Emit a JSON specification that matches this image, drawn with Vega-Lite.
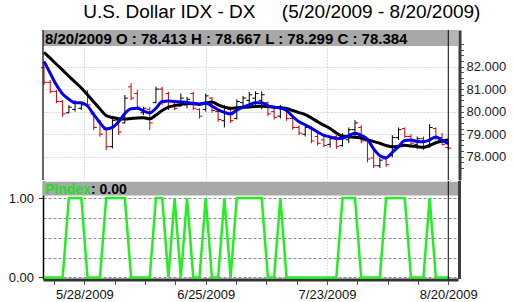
{
  "$schema": "https://vega.github.io/schema/vega-lite/v6.json",
  "background": "white",
  "padding": {"left": 0, "top": 3, "right": 0, "bottom": 0},
  "spacing": -3,
  "title": {"text": "U.S. Dollar IDX - DX\u00a0\u00a0\u00a0\u00a0\u00a0(5/20/2009 - 8/20/2009)", "fontSize": 19, "fontWeight": "normal", "font": "Liberation Sans", "color": "#000000", "anchor": "middle", "frame": "bounds", "dx": 29, "offset": 7},
  "config": {"view": {"stroke": null}, "font": "Liberation Sans"},
  "datasets": {
    "px": [
      {"i":0,"d":"2009-05-19","o":81.95,"h":82.06,"l":81.18,"c":81.3,"b":82.23,"k":82.63,"p":0},
      {"i":1,"d":"2009-05-20","o":81.3,"h":81.4,"l":80.81,"c":80.9,"b":81.7,"k":82.37,"p":0},
      {"i":2,"d":"2009-05-21","o":80.9,"h":80.96,"l":80.37,"c":80.45,"b":81.18,"k":82.1,"p":0},
      {"i":3,"d":"2009-05-22","o":80.45,"h":80.51,"l":79.77,"c":79.9,"b":80.78,"k":81.84,"p":0},
      {"i":4,"d":"2009-05-26","o":79.95,"h":80.29,"l":79.92,"c":80.2,"b":80.55,"k":81.57,"p":1},
      {"i":5,"d":"2009-05-27","o":80.1,"h":80.51,"l":80.0,"c":80.4,"b":80.39,"k":81.31,"p":1},
      {"i":6,"d":"2009-05-28","o":80.15,"h":80.37,"l":80.07,"c":80.3,"b":80.39,"k":81.05,"p":1},
      {"i":7,"d":"2009-05-29","o":80.8,"h":80.96,"l":80.22,"c":80.3,"b":80.25,"k":80.75,"p":0},
      {"i":8,"d":"2009-06-01","o":79.9,"h":80.0,"l":79.18,"c":79.3,"b":79.87,"k":80.43,"p":0},
      {"i":9,"d":"2009-06-02","o":79.55,"h":79.63,"l":78.89,"c":79.0,"b":79.51,"k":80.12,"p":0},
      {"i":10,"d":"2009-06-03","o":79.2,"h":79.33,"l":78.3,"c":78.45,"b":79.23,"k":79.83,"p":1},
      {"i":11,"d":"2009-06-04","o":78.45,"h":79.77,"l":78.37,"c":79.6,"b":79.3,"k":79.74,"p":1},
      {"i":12,"d":"2009-06-05","o":79.6,"h":79.7,"l":78.96,"c":79.1,"b":79.55,"k":79.69,"p":1},
      {"i":13,"d":"2009-06-08","o":79.5,"h":80.74,"l":79.48,"c":80.6,"b":79.92,"k":79.67,"p":1},
      {"i":14,"d":"2009-06-09","o":81.1,"h":81.26,"l":80.51,"c":80.6,"b":80.13,"k":79.7,"p":0},
      {"i":15,"d":"2009-06-10","o":80.8,"h":80.96,"l":80.07,"c":80.2,"b":80.15,"k":79.72,"p":0},
      {"i":16,"d":"2009-06-11","o":79.95,"h":80.22,"l":79.85,"c":80.15,"b":80.03,"k":79.73,"p":0},
      {"i":17,"d":"2009-06-12","o":80.1,"h":80.22,"l":79.18,"c":79.5,"b":79.94,"k":79.68,"p":0},
      {"i":18,"d":"2009-06-15","o":80.4,"h":81.11,"l":80.37,"c":81.0,"b":80.15,"k":79.85,"p":1},
      {"i":19,"d":"2009-06-16","o":81.0,"h":81.1,"l":80.29,"c":80.4,"b":80.45,"k":80.05,"p":1},
      {"i":20,"d":"2009-06-17","o":80.8,"h":80.88,"l":80.07,"c":80.2,"b":80.47,"k":80.2,"p":0},
      {"i":21,"d":"2009-06-18","o":80.4,"h":80.51,"l":80.07,"c":80.15,"b":80.45,"k":80.27,"p":1},
      {"i":22,"d":"2009-06-19","o":80.25,"h":80.81,"l":80.22,"c":80.6,"b":80.43,"k":80.32,"p":0},
      {"i":23,"d":"2009-06-22","o":80.3,"h":80.66,"l":80.15,"c":80.55,"b":80.41,"k":80.36,"p":1},
      {"i":24,"d":"2009-06-23","o":80.8,"h":80.88,"l":80.07,"c":80.15,"b":80.37,"k":80.35,"p":0},
      {"i":25,"d":"2009-06-24","o":80.1,"h":80.15,"l":79.7,"c":79.8,"b":80.34,"k":80.32,"p":0},
      {"i":26,"d":"2009-06-25","o":80.1,"h":80.8,"l":80.0,"c":80.7,"b":80.38,"k":80.38,"p":1},
      {"i":27,"d":"2009-06-26","o":80.6,"h":80.65,"l":79.95,"c":80.05,"b":80.25,"k":80.43,"p":0},
      {"i":28,"d":"2009-06-29","o":80.0,"h":80.1,"l":79.55,"c":79.65,"b":80.08,"k":80.3,"p":0},
      {"i":29,"d":"2009-06-30","o":79.6,"h":80.3,"l":79.3,"c":80.2,"b":79.97,"k":80.2,"p":1},
      {"i":30,"d":"2009-07-01","o":80.1,"h":80.15,"l":79.5,"c":79.6,"b":79.9,"k":80.15,"p":0},
      {"i":31,"d":"2009-07-02","o":79.7,"h":80.55,"l":79.65,"c":80.45,"b":80.07,"k":80.17,"p":1},
      {"i":32,"d":"2009-07-06","o":80.4,"h":80.7,"l":80.2,"c":80.6,"b":80.2,"k":80.19,"p":1},
      {"i":33,"d":"2009-07-07","o":80.5,"h":80.87,"l":80.3,"c":80.75,"b":80.3,"k":80.21,"p":1},
      {"i":34,"d":"2009-07-08","o":80.6,"h":80.9,"l":80.3,"c":80.8,"b":80.4,"k":80.23,"p":1},
      {"i":35,"d":"2009-07-09","o":80.5,"h":80.9,"l":80.1,"c":80.75,"b":80.4,"k":80.24,"p":1},
      {"i":36,"d":"2009-07-10","o":80.4,"h":80.45,"l":79.8,"c":79.9,"b":80.26,"k":80.22,"p":0},
      {"i":37,"d":"2009-07-13","o":80.0,"h":80.2,"l":79.65,"c":79.75,"b":80.2,"k":80.2,"p":0},
      {"i":38,"d":"2009-07-14","o":79.8,"h":80.3,"l":79.7,"c":80.2,"b":80.16,"k":80.17,"p":1},
      {"i":39,"d":"2009-07-15","o":80.1,"h":80.15,"l":79.6,"c":79.7,"b":80.05,"k":80.14,"p":0},
      {"i":40,"d":"2009-07-16","o":79.7,"h":79.75,"l":79.2,"c":79.3,"b":79.78,"k":80.05,"p":0},
      {"i":41,"d":"2009-07-17","o":79.3,"h":79.4,"l":78.96,"c":79.05,"b":79.55,"k":79.96,"p":0},
      {"i":42,"d":"2009-07-20","o":79.0,"h":79.4,"l":78.9,"c":79.3,"b":79.42,"k":79.87,"p":0},
      {"i":43,"d":"2009-07-21","o":79.3,"h":79.35,"l":78.6,"c":78.7,"b":79.26,"k":79.72,"p":0},
      {"i":44,"d":"2009-07-22","o":78.9,"h":79.05,"l":78.5,"c":78.6,"b":79.1,"k":79.55,"p":0},
      {"i":45,"d":"2009-07-23","o":78.75,"h":78.9,"l":78.43,"c":78.5,"b":78.95,"k":79.4,"p":0},
      {"i":46,"d":"2009-07-24","o":78.55,"h":78.9,"l":78.4,"c":78.8,"b":78.88,"k":79.25,"p":0},
      {"i":47,"d":"2009-07-27","o":78.9,"h":78.96,"l":78.35,"c":78.45,"b":78.8,"k":79.05,"p":0},
      {"i":48,"d":"2009-07-28","o":78.5,"h":79.05,"l":78.45,"c":78.95,"b":78.82,"k":78.91,"p":1},
      {"i":49,"d":"2009-07-29","o":78.75,"h":79.3,"l":78.6,"c":79.2,"b":78.94,"k":78.88,"p":1},
      {"i":50,"d":"2009-07-30","o":79.2,"h":79.63,"l":78.8,"c":79.5,"b":79.04,"k":78.87,"p":1},
      {"i":51,"d":"2009-07-31","o":79.3,"h":79.4,"l":78.6,"c":78.7,"b":78.95,"k":78.83,"p":0},
      {"i":52,"d":"2009-08-03","o":78.7,"h":78.74,"l":77.75,"c":77.9,"b":78.78,"k":78.76,"p":0},
      {"i":53,"d":"2009-08-04","o":77.95,"h":78.3,"l":77.5,"c":77.6,"b":78.35,"k":78.67,"p":0},
      {"i":54,"d":"2009-08-05","o":77.6,"h":77.95,"l":77.5,"c":77.85,"b":78.05,"k":78.6,"p":0},
      {"i":55,"d":"2009-08-06","o":77.9,"h":78.0,"l":77.55,"c":77.65,"b":77.96,"k":78.5,"p":1},
      {"i":56,"d":"2009-08-07","o":78.05,"h":78.96,"l":77.98,"c":78.85,"b":78.2,"k":78.44,"p":1},
      {"i":57,"d":"2009-08-10","o":78.85,"h":79.3,"l":78.74,"c":79.2,"b":78.45,"k":78.47,"p":1},
      {"i":58,"d":"2009-08-11","o":79.25,"h":79.3,"l":78.85,"c":78.9,"b":78.72,"k":78.51,"p":1},
      {"i":59,"d":"2009-08-12","o":78.9,"h":79.0,"l":78.5,"c":78.6,"b":78.74,"k":78.48,"p":0},
      {"i":60,"d":"2009-08-13","o":78.55,"h":78.9,"l":78.35,"c":78.8,"b":78.68,"k":78.45,"p":0},
      {"i":61,"d":"2009-08-14","o":78.8,"h":78.9,"l":78.3,"c":78.4,"b":78.67,"k":78.42,"p":0},
      {"i":62,"d":"2009-08-17","o":78.45,"h":79.45,"l":78.4,"c":79.3,"b":78.75,"k":78.5,"p":1},
      {"i":63,"d":"2009-08-18","o":79.25,"h":79.3,"l":78.74,"c":78.85,"b":78.88,"k":78.62,"p":0},
      {"i":64,"d":"2009-08-19","o":78.85,"h":79.05,"l":78.5,"c":78.55,"b":78.72,"k":78.7,"p":0},
      {"i":65,"d":"2009-08-20","o":78.413,"h":78.667,"l":78.299,"c":78.384,"b":78.58,"k":78.74,"p":0}
    ]
  },
  "vconcat": [
    {
      "width": 415,
      "height": 150,
      "data": {"name": "px"},
      "encoding": {
        "x": {"field": "i", "type": "quantitative", "scale": {"domain": [-0.16, 66.56], "nice": false, "zero": false}, "axis": {"values": [6.5, 26, 45.5], "grid": true, "gridColor": "#b8b8b8", "gridDash": [1, 2], "domain": false, "ticks": false, "labels": false, "title": null, "minExtent": 0, "maxExtent": 0, "offset": 0, "labelPadding": 0, "tickSize": 0}},
        "y": {"field": "l", "type": "quantitative", "scale": {"domain": [76.97, 83.62], "nice": false, "zero": false}, "axis": {"orient": "right", "title": null, "values": [77.5, 77.75, 78, 78.25, 78.5, 78.75, 79, 79.25, 79.5, 79.75, 80, 80.25, 80.5, 80.75, 81, 81.25, 81.5, 81.75, 82, 82.25, 82.5, 82.75, 83], "labelExpr": "datum.value >= 78 && datum.value <= 82 && datum.value % 1 == 0 ? format(datum.value, '.3f') : ''", "labelOverlap": false, "labelFontSize": 13, "labelColor": "#222222", "labelPadding": 2.5, "labelFont": "Liberation Sans", "offset": 1.5, "domainColor": "#3c3c3c", "domainWidth": 3, "tickColor": "#555555", "tickSize": 4, "grid": true, "gridColor": "#b8b8b8", "gridDash": [1, 2], "gridOpacity": {"condition": {"test": "datum.value >= 78 && datum.value <= 82 && datum.value % 1 == 0", "value": 1}, "value": 0}}}
      },
      "layer": [
        {
          "data": {"values": [{"x1": -0.16, "x2": 65, "y1": 83.62, "y2": 82.91}]},
          "mark": {"type": "rect", "color": "#a8a8a8"},
          "encoding": {
            "x": {"field": "x1", "type": "quantitative"},
            "x2": {"field": "x2"},
            "y": {"field": "y1", "type": "quantitative"},
            "y2": {"field": "y2"}
          }
        },
        {
          "data": {"values": [{"x1": 65, "x2": 66.56, "y1": 83.62, "y2": 82.91}]},
          "mark": {"type": "rect", "color": "#b4b4b4"},
          "encoding": {
            "x": {"field": "x1", "type": "quantitative"},
            "x2": {"field": "x2"},
            "y": {"field": "y1", "type": "quantitative"},
            "y2": {"field": "y2"}
          }
        },
        {
          "mark": {"type": "rule", "strokeWidth": 1},
          "encoding": {
            "y2": {"field": "h"},
            "color": {"condition": {"test": "datum.c < datum.o", "value": "#c80000"}, "value": "#000000"}
          }
        },
        {
          "mark": {"type": "rule", "strokeWidth": 1, "xOffset": -3, "x2Offset": 0},
          "encoding": {
            "x2": {"field": "i"},
            "y": {"field": "o", "type": "quantitative"},
            "color": {"condition": {"test": "datum.c < datum.o", "value": "#c80000"}, "value": "#000000"}
          }
        },
        {
          "mark": {"type": "rule", "strokeWidth": 1, "xOffset": 0, "x2Offset": 3},
          "encoding": {
            "x2": {"field": "i"},
            "y": {"field": "c", "type": "quantitative"},
            "color": {"condition": {"test": "datum.c < datum.o", "value": "#c80000"}, "value": "#000000"}
          }
        },
        {
          "mark": {"type": "line", "color": "#000000", "strokeWidth": 3, "interpolate": "monotone"},
          "encoding": {"y": {"field": "k", "type": "quantitative"}}
        },
        {
          "mark": {"type": "line", "color": "#0000f0", "strokeWidth": 3, "interpolate": "monotone"},
          "encoding": {"y": {"field": "b", "type": "quantitative"}}
        },
        {
          "data": {"values": [{"t": "8/20/2009 O : 78.413 H : 78.667 L : 78.299 C : 78.384", "x": 0, "y": 83.265}]},
          "mark": {"type": "text", "align": "left", "baseline": "middle", "fontSize": 15, "fontWeight": "bold", "font": "Liberation Sans", "color": "#000000", "dx": 1, "dy": 1},
          "encoding": {
            "x": {"field": "x", "type": "quantitative"},
            "y": {"field": "y", "type": "quantitative"},
            "text": {"field": "t"}
          }
        },
        {
          "data": {"values": [{"x": 65}]},
          "mark": {"type": "rule", "color": "#000000", "strokeWidth": 1},
          "encoding": {"x": {"field": "x", "type": "quantitative"}, "y": null}
        },
        {
          "data": {"values": [{"x": -0.16}]},
          "mark": {"type": "rule", "color": "#000000", "strokeWidth": 1.2},
          "encoding": {"x": {"field": "x", "type": "quantitative"}, "y": null}
        }
      ]
    },
    {
      "width": 415,
      "height": 98,
      "data": {"name": "px"},
      "encoding": {
        "x": {"field": "i", "type": "quantitative", "scale": {"domain": [-0.16, 66.56], "nice": false, "zero": false}, "axis": {"title": null, "values": [1.625, 6.5, 11.375, 16.25, 21.125, 26, 30.875, 35.75, 40.625, 45.5, 50.375, 55.25, 60.125, 65], "labelExpr": "datum.value == 6.5 ? '5/28/2009' : datum.value == 26 ? '6/25/2009' : datum.value == 45.5 ? '7/23/2009' : datum.value == 65 ? '8/20/2009' : ''", "labelOverlap": false, "labelFlush": false, "labelFontSize": 13, "labelColor": "#111111", "labelFont": "Liberation Sans", "labelPadding": 4, "offset": 0.5, "domainColor": "#333333", "domainWidth": 3, "tickColor": "#555555", "tickSize": 5, "grid": true, "gridColor": "#c0c0c0", "gridDash": [1, 2], "gridOpacity": {"condition": {"test": "datum.value == 6.5 || datum.value == 26 || datum.value == 45.5", "value": 1}, "value": 0}}},
        "y": {"field": "p", "type": "quantitative", "scale": {"domain": [-0.019, 1.214], "nice": false, "zero": false}, "axis": {"title": null, "values": [0, 0.25, 0.5, 0.75, 1], "labelExpr": "datum.value == 0 ? '0.00' : datum.value == 1 ? '1.00' : ''", "labelFontSize": 13, "labelColor": "#111111", "labelFont": "Liberation Sans", "labelPadding": 5, "domainColor": "#000000", "domainWidth": 1.5, "tickColor": "#333333", "tickSize": 4.5, "tickOpacity": {"condition": {"test": "datum.value == 0 || datum.value == 1", "value": 1}, "value": 0}, "grid": true, "gridColor": "#8c8c8c", "gridDash": [3, 2], "minExtent": 43, "maxExtent": 43}}
      },
      "layer": [
        {
          "data": {"values": [{"x1": -0.16, "x2": 66.56, "y1": 1.205, "y2": 1.03}]},
          "mark": {"type": "rect", "color": "#a8a8a8"},
          "encoding": {
            "x": {"field": "x1", "type": "quantitative"},
            "x2": {"field": "x2"},
            "y": {"field": "y1", "type": "quantitative"},
            "y2": {"field": "y2"}
          }
        },
        {
          "mark": {"type": "line", "color": "#22ee22", "strokeWidth": 2.5}
        },
        {
          "data": {"values": [{"t": "PIndex", "x": 0, "y": 1.117}]},
          "mark": {"type": "text", "align": "left", "baseline": "middle", "fontSize": 14, "fontWeight": "bold", "font": "Liberation Sans", "color": "#22dd22", "dx": 1, "dy": 1},
          "encoding": {
            "x": {"field": "x", "type": "quantitative"},
            "y": {"field": "y", "type": "quantitative"},
            "text": {"field": "t"}
          }
        },
        {
          "data": {"values": [{"t": ": 0.00", "x": 0, "y": 1.117}]},
          "mark": {"type": "text", "align": "left", "baseline": "middle", "fontSize": 14, "fontWeight": "bold", "font": "Liberation Sans", "color": "#000000", "dx": 47, "dy": 1},
          "encoding": {
            "x": {"field": "x", "type": "quantitative"},
            "y": {"field": "y", "type": "quantitative"},
            "text": {"field": "t"}
          }
        },
        {
          "data": {"values": [{"x": 65}]},
          "mark": {"type": "rule", "color": "#000000", "strokeWidth": 1},
          "encoding": {"x": {"field": "x", "type": "quantitative"}, "y": null}
        },
        {
          "data": {"values": [{"x": 66.56}]},
          "mark": {"type": "rule", "color": "#3c3c3c", "strokeWidth": 3, "xOffset": 1.5},
          "encoding": {"x": {"field": "x", "type": "quantitative"}, "y": null}
        }
      ]
    }
  ]
}
